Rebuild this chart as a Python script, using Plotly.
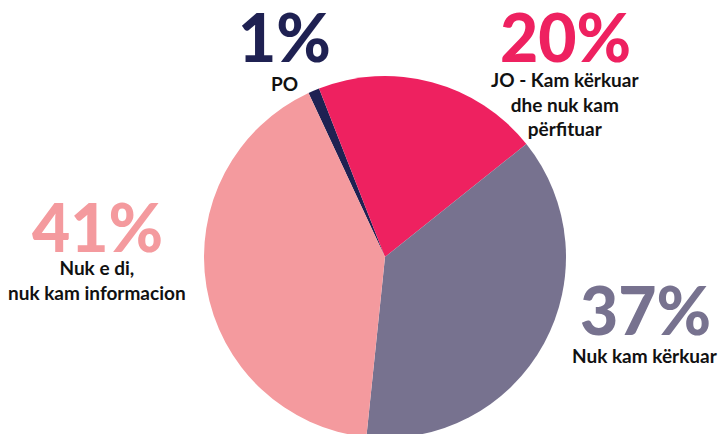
import plotly.graph_objects as go

categories = ["PO", "JO - Kam kërkuar<br>dhe nuk kam<br>përfituar", "Nuk kam kërkuar", "Nuk e di,<br>nuk kam informacion"]
values = [1, 20, 37, 41]
colors = ["#1f2152", "#ee2160", "#77728f", "#f49a9e"]

W, H = 722, 438  # page window is 434 tall; pie bottom is slightly clipped as in the reference

fig = go.Figure(go.Pie(
    labels=categories,
    values=values,
    sort=False,
    direction="clockwise",
    rotation=-25,
    marker=dict(colors=colors, line=dict(width=0)),
    textinfo="none",
    hoverinfo="label+percent",
    domain=dict(x=[(385 - 181) / W, (385 + 181) / W], y=[0, 362 / H]),
    showlegend=False,
))

# label positions in pixels from top-left: (x center, y of percent, y of label block center)
pos = [(284, 36, 83), (565, 36, 104), (645, 309, 355), (97, 226, 280)]

for cat, v, c, (px, py, ly) in zip(categories, values, colors, pos):
    fig.add_annotation(
        x=px / W, y=1 - py / H, xref="paper", yref="paper",
        text=f"{v}%", showarrow=False, xanchor="center", yanchor="middle",
        font=dict(family="Lato", size=66, color=c, weight=900),
    )
    fig.add_annotation(
        x=px / W, y=1 - ly / H, xref="paper", yref="paper",
        text=cat, showarrow=False, xanchor="center", yanchor="middle", align="center",
        font=dict(family="Lato", size=19, color="#111111", weight=700),
    )

fig.update_layout(
    width=W, height=H,
    margin=dict(l=0, r=0, t=0, b=0),
    paper_bgcolor="white", plot_bgcolor="white",
)

fig.write_html(
    "out.html",
    config={"displayModeBar": False},
    post_script="document.body.style.margin='0';document.body.style.overflow='hidden';",
)
